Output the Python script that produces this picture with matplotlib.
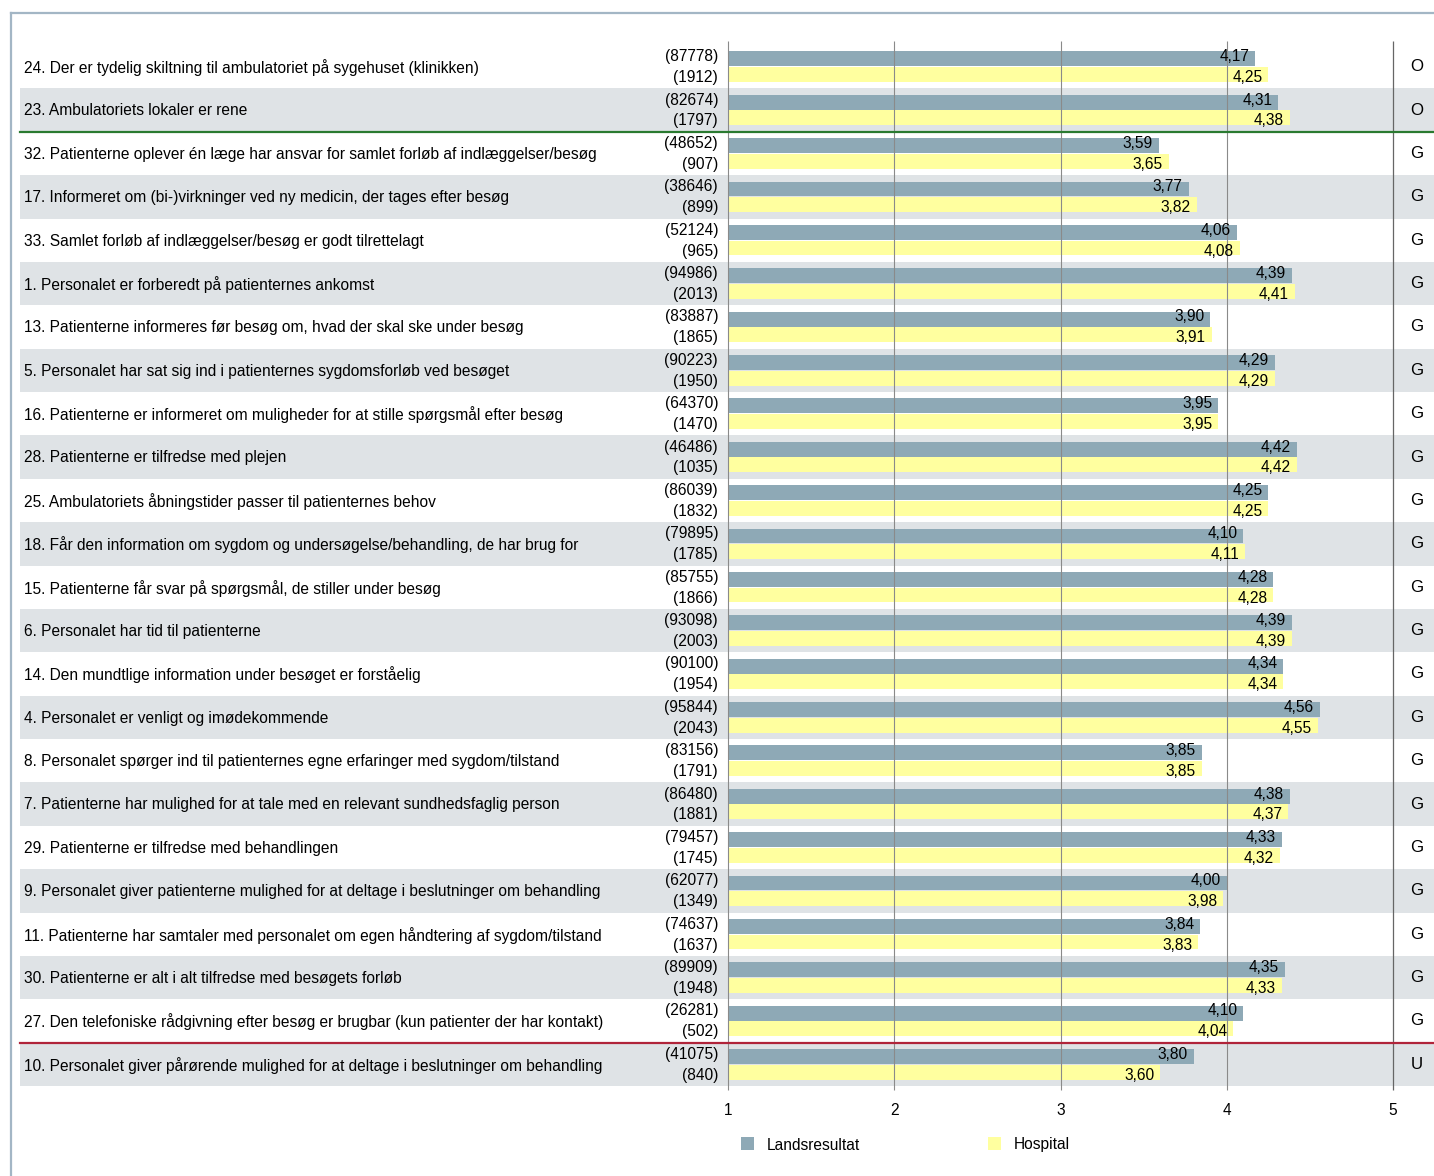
import matplotlib
matplotlib.use("Agg")
import matplotlib.pyplot as plt
import matplotlib.transforms as mtransforms
from matplotlib.patches import Rectangle
from matplotlib.lines import Line2D

plt.rcParams['font.family'] = ['Liberation Sans', 'DejaVu Sans']

# ---- data (top to bottom) ----
questions = [
    "24. Der er tydelig skiltning til ambulatoriet på sygehuset (klinikken)",
    "23. Ambulatoriets lokaler er rene",
    "32. Patienterne oplever én læge har ansvar for samlet forløb af indlæggelser/besøg",
    "17. Informeret om (bi-)virkninger ved ny medicin, der tages efter besøg",
    "33. Samlet forløb af indlæggelser/besøg er godt tilrettelagt",
    "1. Personalet er forberedt på patienternes ankomst",
    "13. Patienterne informeres før besøg om, hvad der skal ske under besøg",
    "5. Personalet har sat sig ind i patienternes sygdomsforløb ved besøget",
    "16. Patienterne er informeret om muligheder for at stille spørgsmål efter besøg",
    "28. Patienterne er tilfredse med plejen",
    "25. Ambulatoriets åbningstider passer til patienternes behov",
    "18. Får den information om sygdom og undersøgelse/behandling, de har brug for",
    "15. Patienterne får svar på spørgsmål, de stiller under besøg",
    "6. Personalet har tid til patienterne",
    "14. Den mundtlige information under besøget er forståelig",
    "4. Personalet er venligt og imødekommende",
    "8. Personalet spørger ind til patienternes egne erfaringer med sygdom/tilstand",
    "7. Patienterne har mulighed for at tale med en relevant sundhedsfaglig person",
    "29. Patienterne er tilfredse med behandlingen",
    "9. Personalet giver patienterne mulighed for at deltage i beslutninger om behandling",
    "11. Patienterne har samtaler med personalet om egen håndtering af sygdom/tilstand",
    "30. Patienterne er alt i alt tilfredse med besøgets forløb",
    "27. Den telefoniske rådgivning efter besøg er brugbar (kun patienter der har kontakt)",
    "10. Personalet giver pårørende mulighed for at deltage i beslutninger om behandling",
]
n_lands = [87778, 82674, 48652, 38646, 52124, 94986, 83887, 90223, 64370, 46486, 86039, 79895,
           85755, 93098, 90100, 95844, 83156, 86480, 79457, 62077, 74637, 89909, 26281, 41075]
n_hosp = [1912, 1797, 907, 899, 965, 2013, 1865, 1950, 1470, 1035, 1832, 1785,
          1866, 2003, 1954, 2043, 1791, 1881, 1745, 1349, 1637, 1948, 502, 840]
landsresultat = [4.17, 4.31, 3.59, 3.77, 4.06, 4.39, 3.90, 4.29, 3.95, 4.42, 4.25, 4.10,
                 4.28, 4.39, 4.34, 4.56, 3.85, 4.38, 4.33, 4.00, 3.84, 4.35, 4.10, 3.80]
hospital = [4.25, 4.38, 3.65, 3.82, 4.08, 4.41, 3.91, 4.29, 3.95, 4.42, 4.25, 4.11,
            4.28, 4.39, 4.34, 4.55, 3.85, 4.37, 4.32, 3.98, 3.83, 4.33, 4.04, 3.60]
grades = ["O", "O"] + ["G"] * 21 + ["U"]
xticks = [1, 2, 3, 4, 5]

W, H = 1434, 1176
GRAY = '#8ea9b6'
YELLOW = '#ffff9f'
BAND = '#dfe3e6'
FS = 11.2

fig = plt.figure(figsize=(W / 100, H / 100), dpi=100)
fig.patch.set_facecolor('white')

top_px, bot_px = 45, 1086
x1_px, x5_px = 728, 1393
ax = fig.add_axes([x1_px / W, 1 - bot_px / H, (x5_px - x1_px) / W, (bot_px - top_px) / H])
ax.set_xlim(1, 5)
nrows = len(questions)
ax.set_ylim(nrows, 0)
ax.patch.set_alpha(0)
for s in ax.spines.values():
    s.set_visible(False)

row_h = (bot_px - top_px) / nrows
trans = mtransforms.blended_transform_factory(fig.transFigure, ax.transData)

# alternating row bands
for i in range(nrows):
    if i % 2 == 1:
        ax.add_patch(Rectangle((20 / W, i), 1 - 20 / W, 1, transform=trans,
                               facecolor=BAND, edgecolor='none', zorder=0, clip_on=False))

# bars
ys = list(range(nrows))
ax.barh([y + 0.32 for y in ys], [v - 1 for v in landsresultat], left=1, height=0.345,
        color=GRAY, zorder=2)
ax.barh([y + 0.68 for y in ys], [v - 1 for v in hospital], left=1, height=0.345,
        color=YELLOW, zorder=2)

# grid lines
ext = 4 / row_h
ax.vlines(xticks[:-1], -ext, nrows + ext, colors='#8a8a8a', linewidth=0.8, zorder=3, clip_on=False)
ax.vlines([xticks[-1]], -ext, nrows + ext, colors='#666666', linewidth=0.9, zorder=3, clip_on=False)

# texts
off = mtransforms.offset_copy(ax.transData, fig=fig, x=-6, y=0, units='dots')
for i in ys:
    ax.text(24 / W, i + 0.52, questions[i], transform=trans, ha='left', va='center', fontsize=FS)
    ax.text(718 / W, i + 0.27, "(%d)" % n_lands[i], transform=trans, ha='right', va='center', fontsize=FS)
    ax.text(718 / W, i + 0.75, "(%d)" % n_hosp[i], transform=trans, ha='right', va='center', fontsize=FS)
    ax.text(landsresultat[i], i + 0.27, ("%.2f" % landsresultat[i]).replace('.', ','),
            transform=off, ha='right', va='center', fontsize=FS, zorder=4)
    ax.text(hospital[i], i + 0.75, ("%.2f" % hospital[i]).replace('.', ','),
            transform=off, ha='right', va='center', fontsize=FS, zorder=4)
    ax.text(1417 / W, i + 0.5, grades[i], transform=trans, ha='center', va='center', fontsize=FS + 1)

# separator lines
ax.add_line(Line2D([20 / W, 1], [2, 2], transform=trans, color='#2a7a30', linewidth=1.6,
                   zorder=4, clip_on=False))
ax.add_line(Line2D([20 / W, 1], [23, 23], transform=trans, color='#b0243a', linewidth=1.6,
                   zorder=4, clip_on=False))

# x ticks
ax.set_yticks([])
ax.set_xticks(xticks)
ax.set_xticklabels([str(t) for t in xticks], fontsize=FS)
ax.tick_params(axis='x', length=0, pad=12)

# legend
for (x0, lab, col) in [(741, "Landsresultat", GRAY), (988, "Hospital", YELLOW)]:
    fig.patches.append(Rectangle((x0 / W, 1 - 1150 / H), 13 / W, 13 / H, transform=fig.transFigure,
                                 facecolor=col, edgecolor='none'))
    fig.text((x0 + 26) / W, 1 - 1145 / H, lab, ha='left', va='center', fontsize=FS)

# frame
fig.lines.append(Line2D([11 / W, 1], [1 - 13 / H, 1 - 13 / H], transform=fig.transFigure,
                        color='#a3b6c5', linewidth=1.6))
fig.lines.append(Line2D([11 / W, 11 / W], [0, 1 - 13 / H], transform=fig.transFigure,
                        color='#a3b6c5', linewidth=1.6))

fig.savefig("out.png", dpi=100)
